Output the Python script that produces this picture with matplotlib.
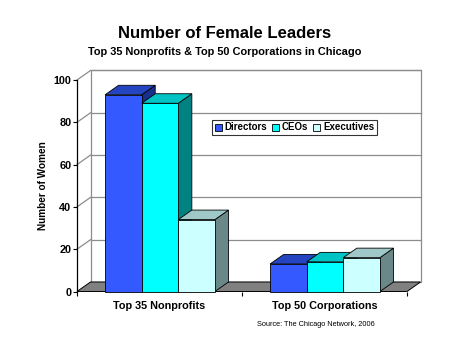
import numpy as np
import matplotlib.pyplot as plt
from matplotlib.patches import Polygon, Patch

plt.rcParams['font.family'] = ['Liberation Sans', 'DejaVu Sans']
plt.rcParams['font.weight'] = 'bold'

categories = ["Top 35 Nonprofits", "Top 50 Corporations"]
series = ["Directors", "CEOs", "Executives"]
values = {
    "Directors":  [93, 13],
    "CEOs":       [89, 14],
    "Executives": [34, 16],
}
y_ticks = [0, 20, 40, 60, 80, 100]

# front / top / side shades for each series
colors = {
    "Directors":  ("#3359FF", "#2545C0", "#18308C"),
    "CEOs":       ("#00FFFF", "#00C4C4", "#008282"),
    "Executives": ("#CCFFFF", "#A0C8C8", "#6A8888"),
}

# oblique depth offset, in data units
DX = 0.082
DY = 4.5
bar_w = 0.222
group_left = 0.17
grid_col = "#8c8c8c"

fig = plt.figure(figsize=(4.5, 3.38), dpi=100)
ax = fig.add_axes([77/450, 46.5/338, 330/450, 211.5/338])
ax.set_xlim(0, 2)
ax.set_ylim(0, 100)

# back wall + gridlines
n_cat = len(categories)
ax.add_patch(Polygon([(DX, DY), (n_cat + DX, DY), (n_cat + DX, 100 + DY), (DX, 100 + DY)],
                     closed=True, facecolor="white", edgecolor=grid_col, lw=0.9,
                     clip_on=False, zorder=1))
for v in y_ticks[1:]:
    ax.plot([DX, n_cat + DX], [v + DY, v + DY], color=grid_col, lw=0.9, clip_on=False, zorder=1)
# left wall diagonals
for v in y_ticks[1:]:
    ax.plot([0, DX], [v, v + DY], color=grid_col, lw=0.9, clip_on=False, zorder=1)

# floor
ax.add_patch(Polygon([(0, 0), (n_cat, 0), (n_cat + DX, DY), (DX, DY)], closed=True,
                     facecolor="#808080", edgecolor="black", lw=0.7, clip_on=False, zorder=2))

# 3d bars
z = 3
for i in range(n_cat):
    for j, s in enumerate(series):
        v = values[s][i]
        x0 = i + group_left + j * bar_w
        x1 = x0 + bar_w
        front, top, side = colors[s]
        ax.add_patch(Polygon([(x1, 0), (x1 + DX, DY), (x1 + DX, v + DY), (x1, v)],
                             facecolor=side, edgecolor="black", lw=0.6, clip_on=False, zorder=z))
        ax.add_patch(Polygon([(x0, v), (x1, v), (x1 + DX, v + DY), (x0 + DX, v + DY)],
                             facecolor=top, edgecolor="black", lw=0.6, clip_on=False, zorder=z))
        ax.add_patch(Polygon([(x0, 0), (x1, 0), (x1, v), (x0, v)],
                             facecolor=front, edgecolor="black", lw=0.6, clip_on=False, zorder=z))
        z += 1

# axes
for side in ["top", "right", "bottom"]:
    ax.spines[side].set_visible(False)
ax.spines["left"].set_linewidth(0.9)
ax.patch.set_visible(False)
ax.set_yticks(y_ticks)
ax.tick_params(axis="y", length=3, width=0.8, pad=1, labelsize=7.8)
ax.set_xticks([0, 1, 2])
ax.set_xticklabels([])
ax.set_xticks([0.5, 1.5], minor=True)
ax.set_xticklabels(categories, minor=True)
ax.tick_params(axis="x", which="major", length=3, width=0.8)
ax.tick_params(axis="x", which="minor", length=0, pad=7, labelsize=7.8)
ax.set_ylabel("Number of Women", fontsize=7.2, fontweight="bold", labelpad=4)

handles = [Patch(facecolor=colors[s][0], edgecolor="black", lw=0.6) for s in series]
leg = fig.legend(handles, series, loc="center", bbox_to_anchor=(294.5/450, 1 - 127.5/338),
                 ncol=3, fontsize=7, frameon=True, fancybox=False, handlelength=0.7,
                 handleheight=0.7, handletextpad=0.3, columnspacing=0.5,
                 borderpad=0.3, borderaxespad=0)
leg.get_frame().set_edgecolor("black")
leg.get_frame().set_linewidth(0.8)

fig.text(225/450, 1 - 34/338, "Number of Female Leaders", ha="center", va="center",
         fontsize=12, fontweight="bold")
fig.text(225/450, 1 - 52/338, "Top 35 Nonprofits & Top 50 Corporations in Chicago",
         ha="center", va="center", fontsize=7.9, fontweight="bold")
fig.text(316/450, 1 - 325/338, "Source: The Chicago Network, 2006", ha="center", va="center",
         fontsize=5.3, fontweight="normal")

fig.savefig("out.png", dpi=100)
